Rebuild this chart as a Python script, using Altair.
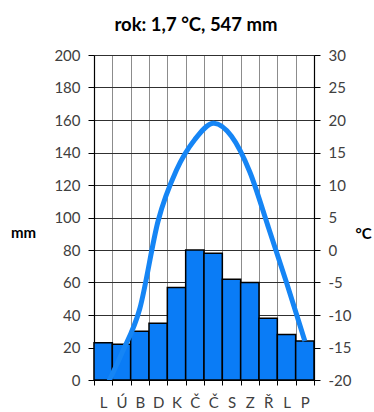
import json
import altair as alt
import pandas as pd

months = ["L", "Ú", "B", "D", "K", "Č", "Č", "S", "Z", "Ř", "L", "P"]
precip = [23, 22, 30, 35, 57, 80, 78, 62, 60, 38, 28, 24]
temp = [-22, -16, -9, 4.5, 12.3, 17, 19.5, 17.5, 12, 3.6, -5, -14]
title_text = "rok: 1,7 °C, 547 mm"

df = pd.DataFrame({
    "m": [str(i + 1) for i in range(12)],
    "precip": precip,
    "temp": temp,
})

FONT = "Lato"
label_expr = json.dumps(months) + "[toNumber(datum.value) - 1]"

x_enc = alt.X(
    "m:N",
    sort=None,
    scale=alt.Scale(paddingInner=0, paddingOuter=0),
    axis=alt.Axis(
        title=None,
        labelExpr=label_expr,
        labelAngle=0,
        tickBand="extent",
        grid=True,
        gridColor="#8c8c8c",
        gridWidth=1,
        domainColor="#000000",
        domainWidth=1.2,
        tickColor="#000000",
        tickSize=5,
        labelFont=FONT,
        labelFontSize=15,
        labelColor="#404040",
        labelPadding=10,
    ),
)

bars = alt.Chart(df).mark_bar(
    color="#0a7cf6", stroke="#000000", strokeWidth=1.5
).encode(
    x=x_enc,
    y=alt.Y(
        "precip:Q",
        scale=alt.Scale(domain=[0, 200], nice=False),
        axis=alt.Axis(
            values=list(range(0, 201, 20)),
            title="mm",
            titleAngle=0,
            titleX=-71,
            titleY=177,
            titleAlign="center",
            titleBaseline="middle",
            titleFont=FONT,
            titleFontSize=15,
            titleFontWeight="bold",
            titleColor="#000000",
            grid=True,
            gridColor="#303030",
            gridWidth=1,
            domainColor="#000000",
            domainWidth=1.2,
            tickColor="#000000",
            tickSize=6,
            labelFont=FONT,
            labelFontSize=15,
            labelColor="#404040",
            labelPadding=8,
        ),
    ),
)

line = alt.Chart(df).mark_line(
    color="#1585f5", strokeWidth=5, interpolate="cardinal", tension=0, clip=True
).encode(
    x=alt.X("m:N", sort=None),
    y=alt.Y(
        "temp:Q",
        scale=alt.Scale(domain=[-20, 30], nice=False),
        axis=alt.Axis(
            orient="right",
            values=list(range(-20, 31, 5)),
            labelExpr="datum.value < 0 ? '-' + abs(datum.value) : '' + datum.value",
            title="°C",
            titleAngle=0,
            titleX=49,
            titleY=178,
            titleAlign="center",
            titleBaseline="middle",
            titleFont=FONT,
            titleFontSize=15,
            titleFontWeight="bold",
            titleColor="#000000",
            grid=False,
            domainColor="#000000",
            domainWidth=1.2,
            tickColor="#000000",
            tickSize=6,
            labelFont=FONT,
            labelFontSize=15,
            labelColor="#404040",
            labelPadding=8,
        ),
    ),
)

chart = alt.layer(bars, line).resolve_scale(y="independent").properties(
    width=220,
    height=325,
    title=alt.TitleParams(
        title_text,
        font=FONT,
        fontSize=18.5,
        fontWeight="bold",
        color="#000000",
        anchor="middle",
        dx=-8,
        offset=14,
    ),
    autosize=alt.AutoSizeParams(type="none"),
    padding={"left": 94, "top": 55, "right": 60, "bottom": 32},
).configure_view(stroke="#8c8c8c", strokeWidth=1).configure(background="#ffffff")

chart.save("out.html", embed_options={"renderer": "svg", "actions": False})
